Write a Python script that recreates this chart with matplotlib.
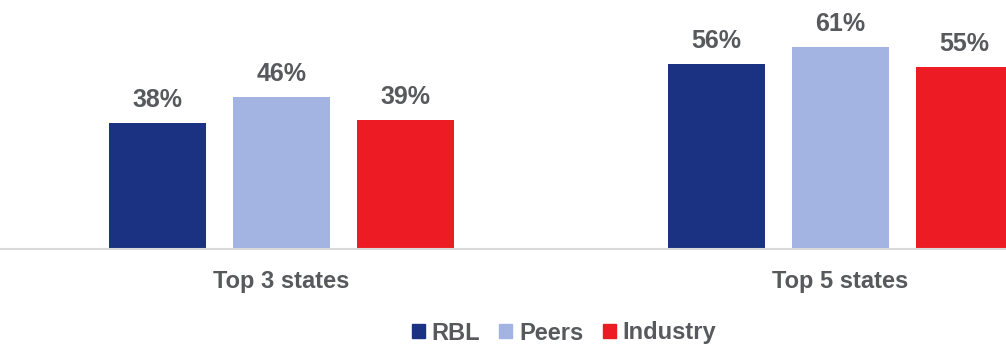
import numpy as np
import matplotlib.pyplot as plt
from matplotlib.patches import Patch

plt.rcParams['font.family'] = ['Liberation Sans', 'DejaVu Sans']
plt.rcParams['font.weight'] = 'bold'

categories = ["Top 3 states", "Top 5 states"]
series = ["RBL", "Peers", "Industry"]
rbl = [38, 56]
peers = [46, 61]
industry = [39, 55]

colors = ["#1a3281", "#a3b4e3", "#ed1c24"]
text_color = "#57595d"

fig = plt.figure(figsize=(10.06, 3.44), dpi=100)
ax = fig.add_axes([0, 0.276, 1, 0.724])

x = np.arange(len(categories))
width = 0.1735
offset = 0.2218
for i, (vals, col) in enumerate(zip([rbl, peers, industry], colors)):
    pos = x + (i - 1) * offset
    ax.bar(pos, vals, width, color=col)
    for p, v in zip(pos, vals):
        ax.text(p, v + 3.3, f"{v}%", ha="center", va="bottom",
                fontsize=18, color=text_color, fontweight="bold")

ax.set_xlim(-0.5036, 1.296)
ax.set_ylim(0, 75.2)
ax.set_xticks(x)
ax.set_xticklabels(categories, fontsize=17, color=text_color, fontweight="bold")
ax.tick_params(axis="x", length=0, pad=15)
ax.set_yticks([])
for s in ["top", "right", "left"]:
    ax.spines[s].set_visible(False)
ax.spines["bottom"].set_color("#d9d9d9")
ax.spines["bottom"].set_linewidth(1.5)

handles = [Patch(color=c, label=s) for c, s in zip(colors, series)]
leg = fig.legend(handles=handles, loc="center", bbox_to_anchor=(564 / 1006, 1 - 333 / 344),
                 ncol=3, frameon=False, fontsize=17, handlelength=0.55, handleheight=0.55,
                 handletextpad=0.3, columnspacing=0.8)
for t in leg.get_texts():
    t.set_color(text_color)

fig.savefig("out.png", dpi=100)
